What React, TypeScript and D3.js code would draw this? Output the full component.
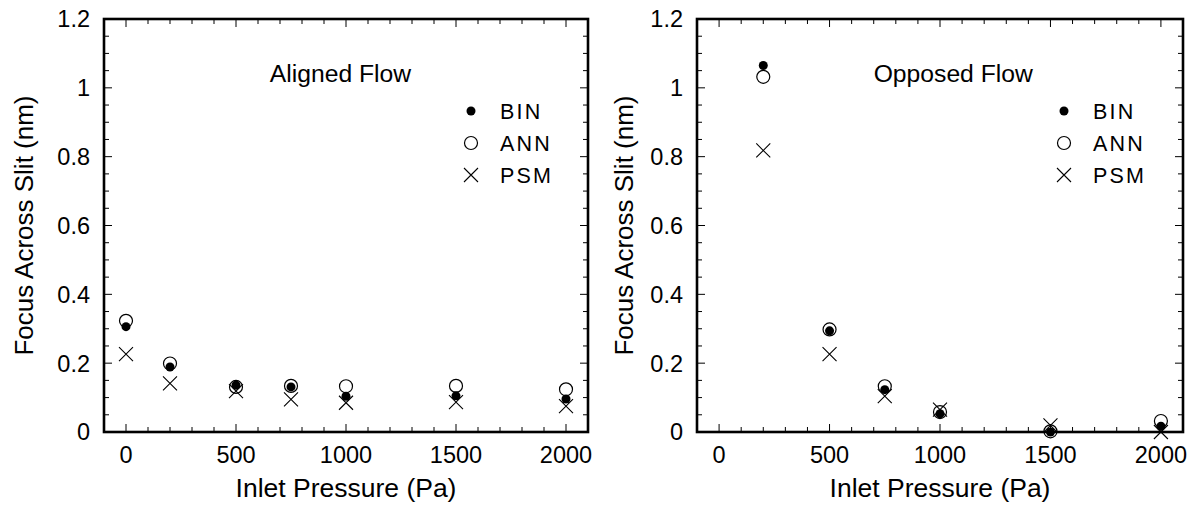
import React from "react";
import * as d3 from "d3";

const alignedPressure = [0, 200, 500, 750, 1000, 1500, 2000];
const alignedBIN = [0.306, 0.189, 0.136, 0.131, 0.104, 0.105, 0.096];
const alignedANN = [0.323, 0.199, 0.131, 0.134, 0.133, 0.134, 0.124];
const alignedPSM = [0.226, 0.141, 0.119, 0.095, 0.085, 0.087, 0.075];

const opposedPressure = [200, 500, 750, 1000, 1500, 2000];
const opposedBIN = [1.065, 0.294, 0.123, 0.053, 0.0, 0.017];
const opposedANN = [1.032, 0.298, 0.133, 0.058, 0.002, 0.032];
const opposedPSM = [0.818, 0.226, 0.104, 0.065, 0.019, 0.0];

const xTicks = [0, 500, 1000, 1500, 2000];
const xMinorTicks = d3.range(0, 2001, 100);
const yTicks = [0, 0.2, 0.4, 0.6, 0.8, 1, 1.2];
const yTickLabels = ["0", "0.2", "0.4", "0.6", "0.8", "1", "1.2"];
const yMinorTicks = d3.range(0, 25).map((i) => i * 0.05);
const legendNames = ["BIN", "ANN", "PSM"];

const font = "'Liberation Sans', Arial, sans-serif";

function Marker({ kind, x, y }) {
  if (kind === "BIN") return <circle cx={x} cy={y} r={4.5} fill="#000" />;
  if (kind === "ANN")
    return <circle cx={x} cy={y} r={6.5} fill="none" stroke="#000" strokeWidth={1.2} />;
  const s = 7;
  return (
    <path
      d={`M${x - s},${y - s}L${x + s},${y + s}M${x - s},${y + s}L${x + s},${y - s}`}
      stroke="#000"
      strokeWidth={1.1}
      fill="none"
    />
  );
}

function Panel({ left, right, label, pressure, bin, ann, psm, titleX, legendX }) {
  const top = 19;
  const bottom = 432;
  const x = d3.scaleLinear().domain([-100, 2100]).range([left, right]);
  const y = d3.scaleLinear().domain([0, 1.2]).range([bottom, top]);
  const series = [
    { name: "ANN", vals: ann },
    { name: "PSM", vals: psm },
    { name: "BIN", vals: bin },
  ];

  return (
    <g fontFamily={font} fill="#000">
      {/* ticks on all four sides, pointing inward */}
      <g stroke="#000" strokeWidth={1}>
        {xMinorTicks.map((t) => {
          const len = t % 500 === 0 ? 8 : 5;
          return (
            <g key={"x" + t}>
              <line x1={x(t)} x2={x(t)} y1={bottom} y2={bottom - len} />
              <line x1={x(t)} x2={x(t)} y1={top} y2={top + len} />
            </g>
          );
        })}
        {yMinorTicks.map((t, i) => {
          const len = i % 4 === 0 ? 8 : 5;
          return (
            <g key={"y" + i}>
              <line x1={left} x2={left + len} y1={y(t)} y2={y(t)} />
              <line x1={right} x2={right - len} y1={y(t)} y2={y(t)} />
            </g>
          );
        })}
      </g>
      <rect
        x={left}
        y={top}
        width={right - left}
        height={bottom - top}
        fill="none"
        stroke="#000"
        strokeWidth={2.6}
      />

      {xTicks.map((t) => (
        <text key={t} x={x(t)} y={463} fontSize={23.5} textAnchor="middle">
          {t}
        </text>
      ))}
      {yTicks.map((t, i) => (
        <text key={t} x={left - 14} y={y(t)} dy="0.36em" fontSize={23.5} textAnchor="end">
          {yTickLabels[i]}
        </text>
      ))}

      <text x={(left + right) / 2} y={497} fontSize={26.5} textAnchor="middle">
        Inlet Pressure (Pa)
      </text>
      <text
        transform={`translate(${titleX},${(top + bottom) / 2}) rotate(-90)`}
        fontSize={26}
        textAnchor="middle"
      >
        Focus Across Slit (nm)
      </text>

      <text x={x(label.x)} y={82} fontSize={24.7} textAnchor="middle">
        {label.text}
      </text>

      {legendNames.map((n, i) => (
        <g key={n}>
          <Marker kind={n} x={legendX} y={111 + i * 32} />
          <text x={legendX + 29} y={111 + i * 32} dy="0.36em" fontSize={21.5} letterSpacing={2.2}>
            {n}
          </text>
        </g>
      ))}

      {series.map((s) =>
        pressure.map((p, i) => (
          <Marker key={s.name + p} kind={s.name} x={x(p)} y={y(s.vals[i])} />
        ))
      )}
    </g>
  );
}

export default function App() {
  return (
    <svg
      width={1193}
      height={506}
      style={{ position: "absolute", left: 0, top: 0, background: "#fff" }}
    >
      <Panel
        left={104}
        right={588}
        label={{ text: "Aligned Flow", x: 975 }}
        pressure={alignedPressure}
        bin={alignedBIN}
        ann={alignedANN}
        psm={alignedPSM}
        titleX={33}
        legendX={471}
      />
      <Panel
        left={697}
        right={1183}
        label={{ text: "Opposed Flow", x: 1060 }}
        pressure={opposedPressure}
        bin={opposedBIN}
        ann={opposedANN}
        psm={opposedPSM}
        titleX={633}
        legendX={1064}
      />
    </svg>
  );
}
